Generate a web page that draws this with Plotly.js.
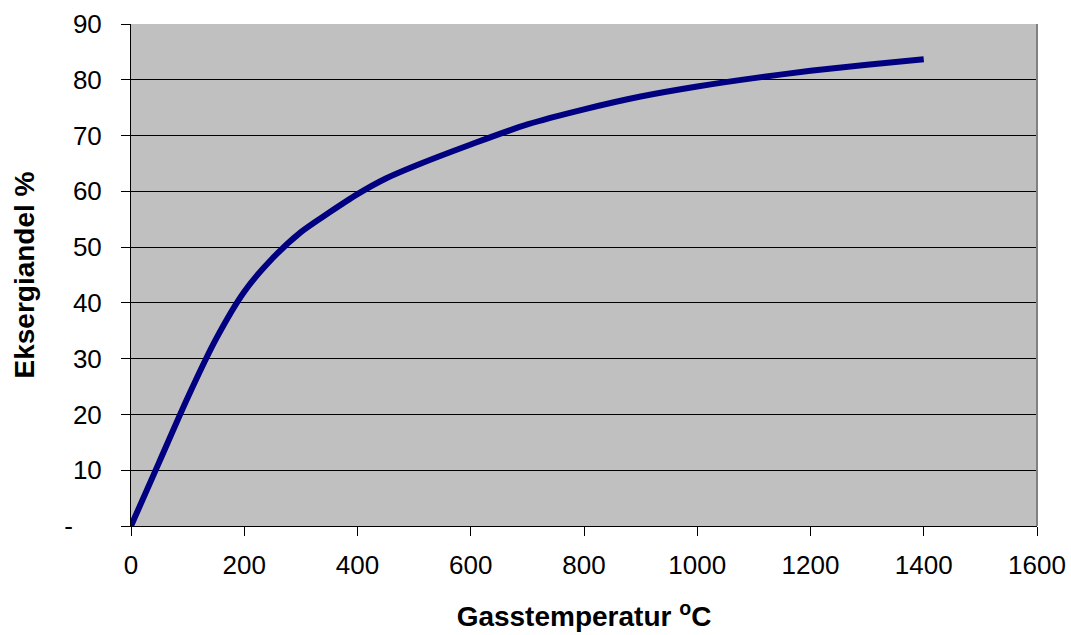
<!DOCTYPE html>
<html><head><meta charset="utf-8">
<script src="https://cdn.plot.ly/plotly-3.0.1.min.js"></script>
<style>html,body{margin:0;padding:0;background:#fff}#c{width:1071px;height:635px}</style>
</head><body><div id="c"></div>
<script>
const temperature = [0, 50, 100, 150, 200, 250, 300, 350, 400, 450, 500, 600, 700, 800, 900, 1000, 1100, 1200, 1300, 1400];
const exergyShare = [0, 11.5, 23, 33.5, 42, 48, 52.7, 56.2, 59.5, 62.3, 64.5, 68.4, 72, 74.7, 77, 78.8, 80.3, 81.6, 82.7, 83.7];
const yTickVals = [0, 10, 20, 30, 40, 50, 60, 70, 80, 90];
const yTickText = ['-\u00A0\u00A0\u00A0\u00A0', '10', '20', '30', '40', '50', '60', '70', '80', '90'];
const xTickVals = [0, 200, 400, 600, 800, 1000, 1200, 1400, 1600];

const trace = {
  x: temperature, y: exergyShare, type: 'scatter', mode: 'lines',
  line: {color: '#000080', width: 6, shape: 'spline', smoothing: 0.8},
  hoverinfo: 'skip'
};
const fam = 'Liberation Sans, Arial, sans-serif';
const layout = {
  width: 1071, height: 635,
  margin: {l: 131, r: 34, t: 24, b: 109},
  paper_bgcolor: '#fff', plot_bgcolor: '#c0c0c0',
  showlegend: false,
  font: {size: 27, family: fam, color: '#000'},
  xaxis: {
    range: [0, 1600], tickvals: xTickVals, ticks: 'outside', ticklen: 9, tickcolor: '#000',
    showline: true, linecolor: '#000', linewidth: 1, showgrid: false, zeroline: false,
    ticklabelstandoff: 7,
    tickfont: {size: 26, family: fam, color: '#000'},
    title: {text: '<b>Gasstemperatur <sup>o</sup>C</b>', font: {size: 28, family: fam, color: '#000'}, standoff: 27}
  },
  yaxis: {
    range: [0, 90], tickvals: yTickVals, ticktext: yTickText, ticks: 'outside', ticklen: 9, tickcolor: '#000',
    showline: true, linecolor: '#000', linewidth: 1, showgrid: true, gridcolor: '#000', gridwidth: 1, zeroline: false,
    ticklabelstandoff: 14,
    tickfont: {size: 26, family: fam, color: '#000'},
    title: {text: '<b>Eksergiandel %</b>', font: {size: 28, family: fam, color: '#000'}, standoff: 21}
  },
  shapes: [
    {type: 'line', xref: 'paper', yref: 'paper', x0: 1, x1: 1, y0: 0, y1: 1, line: {color: '#808080', width: 2}}
  ]
};
Plotly.newPlot('c', [trace], layout, {displayModeBar: false, staticPlot: true});
</script></body></html>
